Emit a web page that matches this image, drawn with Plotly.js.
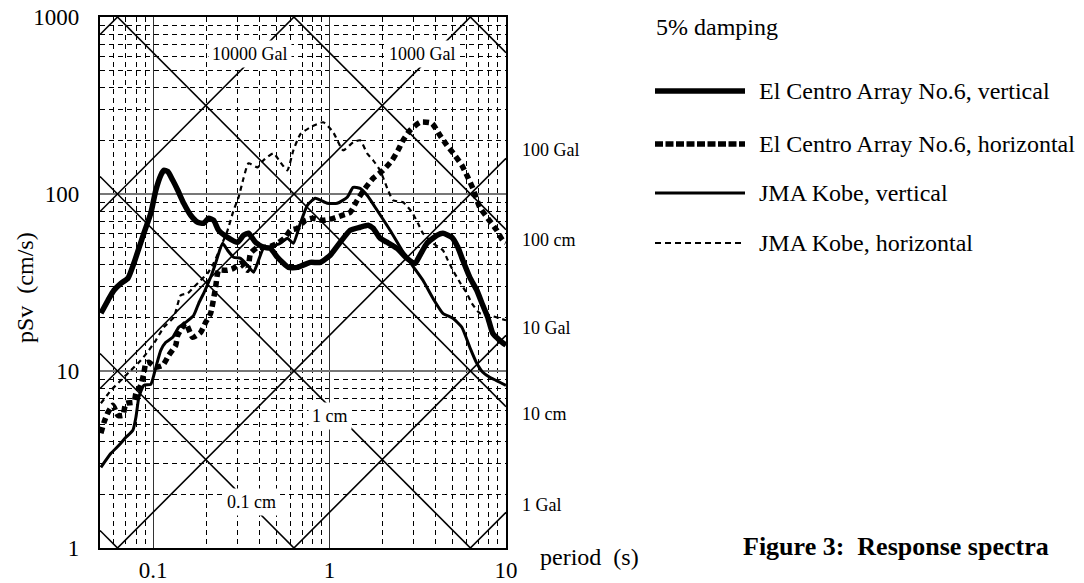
<!DOCTYPE html>
<html>
<head>
<meta charset="utf-8">
<script src="https://cdn.plot.ly/plotly-3.0.1.min.js"></script>
<style>
  html, body { margin: 0; padding: 0; background: #ffffff; }
  #chart { width: 1084px; height: 583px; }
</style>
</head>
<body>
<div id="chart"></div>
<script>
// ---------------- data (period T in s, pseudo velocity pSv in cm/s) ----------------
const T_ECV = [0.0506, 0.0555, 0.0600, 0.0657, 0.0720, 0.0778, 0.0830, 0.0886, 0.0970, 0.1036, 0.1105, 0.1149, 0.1211, 0.1292, 0.1379, 0.1491, 0.1633, 0.1789, 0.1933, 0.2064, 0.2203, 0.2350, 0.2642, 0.3010, 0.3254, 0.3473, 0.3803, 0.4220, 0.4624, 0.5064, 0.5404, 0.5843, 0.6572, 0.7780, 0.8861, 1.009, 1.149, 1.309, 1.490, 1.654, 1.766, 1.934, 2.118, 2.413, 2.748, 3.050, 3.254, 3.565, 4.060, 4.389, 4.934, 5.335, 5.694, 6.235, 6.831, 7.387, 7.883, 8.413, 9.214, 10];
const V_ECV = [21.2, 25.1, 28.6, 31.3, 33.4, 40.6, 49.3, 60.0, 77.8, 105, 127.5, 136, 134, 119.5, 105, 88.6, 75.8, 69.2, 68.3, 72.9, 71.0, 62.4, 56.9, 53.4, 58.4, 60.0, 53.4, 50.0, 49.3, 43.9, 41.1, 38.5, 38.5, 41.1, 41.1, 45.1, 53.4, 62.4, 64.9, 66.6, 64.0, 56.2, 53.4, 49.3, 43.3, 40.6, 45.1, 52.7, 58.4, 60.0, 56.9, 50.0, 42.2, 33.8, 28.6, 23.5, 20.1, 16.3, 14.9, 14.0];

const T_ECH = [0.0506, 0.0527, 0.0555, 0.0592, 0.0632, 0.0674, 0.0701, 0.0778, 0.0799, 0.0852, 0.0886, 0.0909, 0.0946, 0.1036, 0.1134, 0.1227, 0.1343, 0.1379, 0.1530, 0.1676, 0.1860, 0.1985, 0.2118, 0.2260, 0.2350, 0.2642, 0.2858, 0.3130, 0.3428, 0.3565, 0.3904, 0.4220, 0.4624, 0.5064, 0.5618, 0.5998, 0.6571, 0.7291, 0.7985, 0.9213, 1.049, 1.179, 1.309, 1.434, 1.591, 1.766, 2.012, 2.261, 2.444, 2.609, 2.857, 3.254, 3.804, 4.221, 4.624, 5.131, 5.620, 6.075, 6.485, 7.102, 7.882, 8.862, 9.581, 10];
const V_ECH = [4.45, 5.13, 5.84, 6.40, 5.62, 5.62, 6.57, 6.66, 7.48, 8.30, 9.71, 11.05, 11.2, 10.49, 10.77, 12.27, 13.97, 15.91, 18.6, 15.5, 16.54, 18.84, 21.18, 29.71, 37.06, 37.06, 38.04, 40.6, 37.06, 46.24, 50.0, 50.0, 50.64, 52.7, 56.9, 62.35, 64.0, 71.0, 72.9, 71.0, 72.9, 75.8, 78.8, 92.1, 107.7, 122.7, 136.1, 155.0, 176.6, 201.1, 229.0, 254.2, 250.9, 214.6, 188.4, 165.4, 145.3, 124.3, 107.7, 84.1, 72.9, 62.35, 54.7, 53.4];

const T_JKV = [0.0506, 0.0577, 0.0640, 0.0701, 0.0768, 0.0799, 0.0830, 0.0886, 0.0970, 0.1036, 0.1105, 0.1180, 0.1292, 0.1397, 0.1530, 0.1698, 0.1813, 0.1934, 0.2118, 0.2260, 0.2476, 0.2642, 0.2858, 0.3130, 0.3428, 0.3707, 0.3904, 0.4220, 0.4505, 0.5266, 0.5768, 0.6235, 0.6831, 0.7482, 0.8301, 0.9705, 1.105, 1.259, 1.361, 1.491, 1.633, 1.860, 2.203, 2.575, 2.971, 3.382, 3.854, 4.389, 5.000, 5.620, 6.235, 6.831, 7.387, 8.089, 9.213, 10];
const V_JKV = [2.857, 3.428, 3.804, 4.221, 4.624, 5.475, 7.102, 8.30, 8.413, 10.49, 13.09, 14.53, 15.50, 17.66, 18.84, 20.64, 24.13, 27.48, 33.83, 40.6, 52.7, 48.08, 43.9, 43.31, 39.55, 36.11, 40.6, 49.3, 50.0, 52.7, 56.2, 52.7, 68.3, 86.35, 94.6, 88.6, 88.6, 95.8, 109.1, 107.7, 98.3, 80.9, 62.35, 48.08, 39.04, 32.54, 25.75, 21.18, 19.85, 17.66, 13.61, 11.05, 9.83, 9.21, 8.64, 8.30];

const T_JKH = [0.0506, 0.0577, 0.0657, 0.0729, 0.0852, 0.0946, 0.1036, 0.1149, 0.1309, 0.1434, 0.1570, 0.1698, 0.1860, 0.2037, 0.2203, 0.2413, 0.2642, 0.2858, 0.3049, 0.3254, 0.3473, 0.3904, 0.4220, 0.4808, 0.5266, 0.5768, 0.6235, 0.6831, 0.7780, 0.9213, 1.049, 1.195, 1.361, 1.491, 1.633, 1.766, 1.934, 2.146, 2.290, 2.609, 2.933, 3.170, 3.382, 3.854, 4.389, 4.684, 5.000, 5.475, 5.998, 6.401, 7.102, 8.089, 9.213, 10];
const V_JKH = [6.57, 7.78, 8.86, 9.83, 11.49, 13.09, 14.91, 17.66, 20.11, 26.77, 27.48, 29.71, 32.54, 35.65, 40.6, 50.0, 62.35, 80.9, 95.8, 122.7, 149.1, 141.5, 155.0, 169.8, 151.1, 136.1, 176.6, 217.4, 238.2, 254.2, 223.1, 176.6, 196.0, 201.1, 169.8, 155.0, 136.1, 104.9, 92.1, 89.8, 78.8, 68.3, 60.0, 52.7, 48.08, 42.2, 37.06, 31.70, 27.48, 24.13, 21.18, 20.64, 19.85, 19.34];

const SERIES_NAMES = ['El Centro Array No.6, vertical', 'El Centro Array No.6, horizontal', 'JMA Kobe, vertical', 'JMA Kobe, horizontal'];

// tripartite reference lines: constant displacement (cm) and constant acceleration (Gal)
const DISP_CM = [0.01, 0.1, 1, 10, 100, 1000];
const ACC_GAL = [1, 10, 100, 1000, 10000, 100000];

// axes
const T_RANGE = [0.05, 10];
const V_RANGE = [1, 1000];
const X_TICKS = [0.1, 1, 10];
const X_TICK_TEXT = ['0.1', '1', '10'];
const Y_TICKS = [1, 10, 100, 1000];
const Y_TICK_TEXT = ['1', '10', '100', '1000'];
const X_MINOR = [0.06, 0.07, 0.08, 0.09, 0.2, 0.3, 0.4, 0.5, 0.6, 0.7, 0.8, 0.9, 2, 3, 4, 5, 6, 7, 8, 9];
const Y_MINOR = [2, 3, 4, 5, 6, 7, 8, 9, 20, 30, 40, 50, 60, 70, 80, 90, 200, 300, 400, 500, 600, 700, 800, 900];

// ---------------- styles ----------------
const FONT = 'Liberation Serif, Times New Roman, Times, serif';
const STYLES = [
  {width: 5.5, dash: 'solid', legDash: 'solid'},
  {width: 5.5, dash: '6px,4px', legDash: '8px,2.5px'},
  {width: 3, dash: 'solid', legDash: 'solid'},
  {width: 2.2, dash: '5px,4px', legDash: '6px,4px'}
];

const traces = [];
const TWO_PI = 2 * Math.PI;

DISP_CM.forEach(d => {
  traces.push({
    x: T_RANGE, y: T_RANGE.map(t => TWO_PI * d / t),
    mode: 'lines', line: {color: '#000', width: 1.6}, hoverinfo: 'skip', showlegend: false
  });
});
ACC_GAL.forEach(a => {
  traces.push({
    x: T_RANGE, y: T_RANGE.map(t => a * t / TWO_PI),
    mode: 'lines', line: {color: '#000', width: 1.6}, hoverinfo: 'skip', showlegend: false
  });
});

const DATA = [[T_ECV, V_ECV], [T_ECH, V_ECH], [T_JKV, V_JKV], [T_JKH, V_JKH]];
DATA.forEach((d, i) => {
  traces.push({
    x: d[0], y: d[1], name: SERIES_NAMES[i], mode: 'lines',
    line: {color: '#000', width: STYLES[i].width, dash: STYLES[i].dash, shape: 'spline', smoothing: 0.5},
    showlegend: false
  });
});

// ---------------- layout ----------------
const L = 100, R = 578, TOP = 17, B = 35;
const PW = 1084 - L - R, PH = 583 - TOP - B;
const px = x => (x - L) / PW;          // pixel -> paper x
const py = y => (583 - B - y) / PH;     // pixel -> paper y

const annotations = [];
function lab(text, x, y, opts) {
  annotations.push(Object.assign({
    text: text, x: x, y: y, showarrow: false, yanchor: 'middle', xanchor: 'center',
    font: {family: FONT, size: 18, color: '#000'}
  }, opts || {}));
}
const lg = Math.log10;
const pxT = x => (x - 329.3) / 177;     // pixel -> log10(T)
const pyV = y => (547.7 - y) / 177;     // pixel -> log10(V)

// labels on the tripartite lines (white box breaks the line)
const inner = {xref: 'x', yref: 'y', bgcolor: '#fff', borderpad: 3};
lab('10000 Gal', pxT(249), pyV(54), inner);
lab('1000 Gal', pxT(423), pyV(54), inner);
lab('1 cm', pxT(330), pyV(416), inner);
lab('0.1 cm', pxT(251), pyV(502), inner);

// right-side labels
const side = {xref: 'paper', yref: 'y', xanchor: 'left'};
lab('100 Gal', px(520), pyV(150), side);
lab('100 cm', px(520), pyV(240), side);
lab('10 Gal', px(520), pyV(328), side);
lab('10 cm', px(520), pyV(414), side);
lab('1 Gal', px(520), pyV(505), side);

const big = {family: FONT, size: 24, color: '#000'};
// axis titles
lab('pSv\u00a0 (cm/s)', px(25), py(288), {xref: 'paper', yref: 'paper', textangle: -90, font: big});
lab('period\u00a0 (s)', px(538), py(557), {xref: 'paper', yref: 'paper', xanchor: 'left', font: big});

// legend block
lab('5% damping', px(654), py(27), {xref: 'paper', yref: 'paper', xanchor: 'left', font: big});
const LEG_Y = [91, 144, 193, 243];
const shapes = [];
SERIES_NAMES.forEach((n, i) => {
  shapes.push({
    type: 'line', xref: 'paper', yref: 'paper',
    x0: px(655), x1: px(745), y0: py(LEG_Y[i]), y1: py(LEG_Y[i]),
    line: {color: '#000', width: STYLES[i].width, dash: STYLES[i].legDash}
  });
  lab(n, px(757), py(LEG_Y[i]), {xref: 'paper', yref: 'paper', xanchor: 'left', font: big});
});

// caption
lab('<b>Figure 3:\u00a0 Response spectra</b>', px(741), py(546), {xref: 'paper', yref: 'paper', xanchor: 'left', font: {family: FONT, size: 26, color: '#000'}});

const axisCommon = {
  type: 'log', showline: true, mirror: true, linecolor: '#000', linewidth: 2.2,
  ticks: '', zeroline: false, showgrid: true, gridwidth: 1,
  tickfont: {family: FONT, size: 23, color: '#000'},
  tickmode: 'array'
};

const layout = {
  width: 1084, height: 583,
  margin: {l: L, r: R, t: TOP, b: B, pad: 0},
  paper_bgcolor: '#fff', plot_bgcolor: '#fff',
  showlegend: false,
  xaxis: Object.assign({}, axisCommon, {
    range: [lg(T_RANGE[0]), lg(T_RANGE[1])],
    tickvals: X_TICKS, ticktext: X_TICK_TEXT, gridcolor: '#333',
    ticklabelstandoff: 0,
    minor: {tickmode: 'array', tickvals: X_MINOR, showgrid: true, gridcolor: '#000', gridwidth: 1, griddash: '5px,4px', ticks: ''}
  }),
  yaxis: Object.assign({}, axisCommon, {
    range: [lg(V_RANGE[0]), lg(V_RANGE[1])],
    tickvals: Y_TICKS, ticktext: Y_TICK_TEXT, gridcolor: '#777', gridwidth: 1.5,
    ticklabelstandoff: 14,
    minor: {tickmode: 'array', tickvals: Y_MINOR, showgrid: true, gridcolor: '#000', gridwidth: 1, griddash: '5px,4px', ticks: ''}
  }),
  annotations: annotations,
  shapes: shapes,
  font: {family: FONT, color: '#000'}
};

Plotly.newPlot('chart', traces, layout, {staticPlot: true, displayModeBar: false});
</script>
</body>
</html>
